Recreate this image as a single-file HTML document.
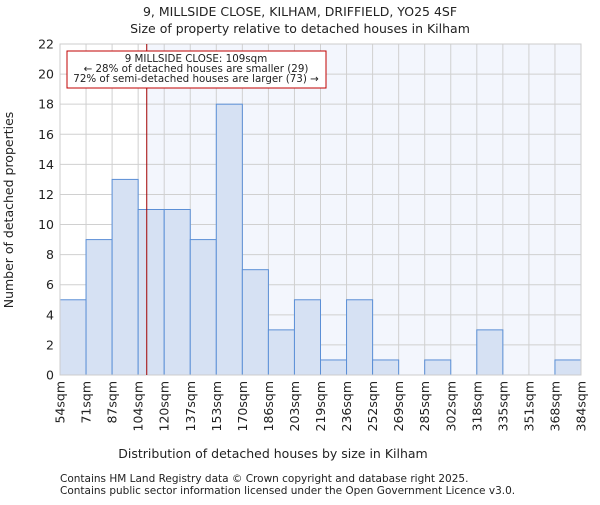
<!DOCTYPE html>
<html><head><meta charset="utf-8"><style>
body{margin:0;background:#fff;}
svg text{font-family:"DejaVu Sans","Liberation Sans",sans-serif;fill:#222;}
</style></head><body>
<svg id="c" width="600" height="500">
<text x="300" y="16" text-anchor="middle" font-size="12.5">9, MILLSIDE CLOSE, KILHAM, DRIFFIELD, YO25 4SF</text>
<text x="300" y="33" text-anchor="middle" font-size="12.5">Size of property relative to detached houses in Kilham</text>
<g id="plot"></g>
<text x="273" y="458" text-anchor="middle" font-size="12.5">Distribution of detached houses by size in Kilham</text>
<text transform="translate(13,210) rotate(-90)" text-anchor="middle" font-size="12.5">Number of detached properties</text>
<text x="60" y="482" font-size="10.5">Contains HM Land Registry data © Crown copyright and database right 2025.</text>
<text x="60" y="494" font-size="10.5">Contains public sector information licensed under the Open Government Licence v3.0.</text>
</svg>
<script>
const binLabels=["54sqm","71sqm","87sqm","104sqm","120sqm","137sqm","153sqm","170sqm","186sqm","203sqm","219sqm","236sqm","252sqm","269sqm","285sqm","302sqm","318sqm","335sqm","351sqm","368sqm","384sqm"];
const counts=[5,9,13,11,11,9,18,7,3,5,1,5,1,0,1,0,3,0,0,1];
const yTicks=[0,2,4,6,8,10,12,14,16,18,20,22];
const markerBin=3.33;
const NS="http://www.w3.org/2000/svg";
const L=60,R=581,T=44,B=375,YMAX=22;
const n=counts.length,bw=(R-L)/n;
const x=i=>L+i*bw, y=v=>B-(v/YMAX)*(B-T);
const g=document.getElementById('plot');
function mk(t,a,p){const e=document.createElementNS(NS,t);for(const k in a)e.setAttribute(k,a[k]);(p||g).appendChild(e);return e;}
const mx=x(markerBin);
let e=mk('rect',{x:mx,y:T,width:R-mx,height:B-T,fill:'#f3f6fd'});


yTicks.forEach(v=>{
 let l=mk('line',{x1:L,x2:R,y1:y(v),y2:y(v),stroke:'#d0d0d0'});
 
 
 let t=mk('text',{x:L-6,y:y(v)+4.5,'text-anchor':'end','font-size':'12.5'});t.textContent=v;
 
 
});
binLabels.forEach((s,i)=>{
 let l=mk('line',{x1:x(i),x2:x(i),y1:T,y2:B,stroke:'#d0d0d0'});
 
 
 let t=mk('text',{transform:`translate(${x(i)+4.5},${B+6}) rotate(-90)`,'text-anchor':'end','font-size':'12.5'});t.textContent=s;
 
 
});
counts.forEach((c,i)=>{
 if(c<=0)return;
 let r=mk('rect',{x:x(i),y:y(c),width:bw,height:B-y(c),fill:'#d6e1f3',stroke:'#5b8fd6','stroke-width':1});
 
 
});
let ax=mk('rect',{x:L,y:T,width:R-L,height:B-T,fill:'none',stroke:'#ccc'});


let ml=mk('line',{x1:mx,x2:mx,y1:T,y2:B,stroke:'#a00000','stroke-width':1});


let box=mk('rect',{x:67,y:51,width:259,height:37,fill:'#fff',stroke:'#c00000'});


["9 MILLSIDE CLOSE: 109sqm","← 28% of detached houses are smaller (29)","72% of semi-detached houses are larger (73) →"].forEach((s,i)=>{
 let t=mk('text',{x:196,y:62+i*10,'text-anchor':'middle','font-size':'10.3'});t.textContent=s;
 
 
});
</script>
</body></html>
